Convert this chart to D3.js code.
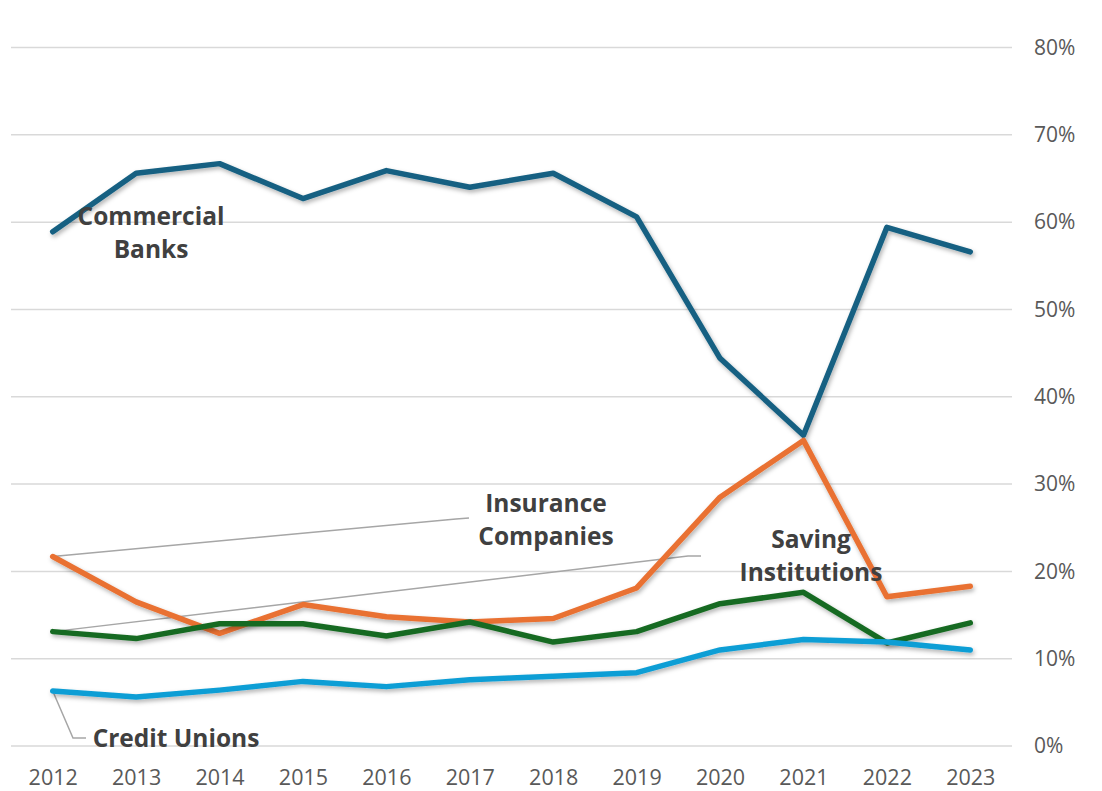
<!DOCTYPE html>
<html>
<head>
<meta charset="utf-8">
<script src="https://cdn.jsdelivr.net/npm/d3@7"></script>
<style>
  body { margin: 0; background: #fff; }
  text { font-family: "Open Sans", sans-serif; }
</style>
</head>
<body>
<script>
 // years on the x axis
 var years = ["2012", "2013", "2014", "2015", "2016", "2017", "2018", "2019", "2020", "2021", "2022", "2023"];

 // share of total, in percent
 var commercialBanks = [58.9, 65.6, 66.7, 62.7, 65.9, 64.0, 65.6, 60.6, 44.4, 35.6, 59.4, 56.6];
 var insuranceCompanies = [21.7, 16.5, 12.9, 16.2, 14.8, 14.2, 14.6, 18.1, 28.5, 35.0, 17.1, 18.3];
 var savingInstitutions = [13.1, 12.3, 14.0, 14.0, 12.6, 14.2, 11.9, 13.1, 16.3, 17.6, 11.8, 14.1];
 var creditUnions = [6.3, 5.6, 6.4, 7.4, 6.8, 7.6, 8.0, 8.4, 11.0, 12.2, 11.9, 11.0];

 var yTicks = [0, 10, 20, 30, 40, 50, 60, 70, 80];

 var series = [
     { name: "Commercial Banks", values: commercialBanks, color: "#156082" },
     { name: "Insurance Companies", values: insuranceCompanies, color: "#E97132" },
     { name: "Saving Institutions", values: savingInstitutions, color: "#196B24" },
     { name: "Credit Unions", values: creditUnions, color: "#0F9ED5" }
 ];

 //Width and height
 var width = 1102,
     height = 791,
     plotLeft = 11,
     plotRight = 1012,
     plotTop = 47.5,
     plotBottom = 746;

 var svg = d3.select("body")
     .append("svg")
     .attr("width", width)
     .attr("height", height);

 // soft drop shadow under the lines
 var filter = svg.append("defs").append("filter")
     .attr("id", "shadow")
     .attr("x", "-10%").attr("y", "-10%")
     .attr("width", "120%").attr("height", "130%");
 filter.append("feDropShadow")
     .attr("dx", 1.5)
     .attr("dy", 2.5)
     .attr("stdDeviation", 2)
     .attr("flood-color", "#000")
     .attr("flood-opacity", 0.3);

 var x = d3.scalePoint()
     .domain(years)
     .range([plotLeft, plotRight])
     .padding(0.5);

 var y = d3.scaleLinear()
     .domain([0, 80])
     .range([plotBottom, plotTop]);

 //gridlines
 svg.append("g")
     .selectAll("line")
     .data(yTicks)
     .enter()
     .append("line")
     .attr("x1", plotLeft)
     .attr("x2", plotRight)
     .attr("y1", function(d) { return y(d); })
     .attr("y2", function(d) { return y(d); })
     .attr("stroke", "#d9d9d9")
     .attr("stroke-width", 1.5);

 //right axis labels
 var yAxis = d3.axisRight(y)
     .tickValues(yTicks)
     .tickSize(0)
     .tickPadding(0)
     .tickFormat(function(d) { return d + "%"; });

 var yg = svg.append("g")
     .attr("transform", "translate(1034,0)")
     .call(yAxis);
 yg.select(".domain").remove();
 yg.selectAll("text")
     .attr("fill", "#595959")
     .style("font-size", "21px");

 //bottom axis labels
 var xAxis = d3.axisBottom(x)
     .tickSize(0)
     .tickPadding(0);

 var xg = svg.append("g")
     .attr("transform", "translate(0,785)")
     .call(xAxis);
 xg.select(".domain").remove();
 xg.selectAll("text")
     .attr("dy", 0)
     .attr("fill", "#595959")
     .style("font-size", "21.5px");

 //leader lines from labels to the first points
 var leader = svg.append("g")
     .attr("fill", "none")
     .attr("stroke", "#a6a6a6")
     .attr("stroke-width", 1.5);

 leader.append("polyline")
     .attr("points", [[x("2012"), y(insuranceCompanies[0])], [456, 519], [469, 518]].join(" "));
 leader.append("polyline")
     .attr("points", [[x("2012"), y(savingInstitutions[0])], [688, 556], [701, 556]].join(" "));
 leader.append("polyline")
     .attr("points", [[x("2012"), y(creditUnions[0])], [73, 738], [86, 738]].join(" "));

 //lines
 var line = d3.line()
     .x(function(d, i) { return x(years[i]); })
     .y(function(d) { return y(d); });

 svg.append("g")
     .selectAll("path")
     .data(series)
     .enter()
     .append("path")
     .attr("d", function(d) { return line(d.values); })
     .attr("fill", "none")
     .attr("stroke", function(d) { return d.color; })
     .attr("stroke-width", 5.5)
     .attr("stroke-linecap", "round")
     .attr("stroke-linejoin", "round")
     .attr("filter", "url(#shadow)");

 //series labels
 var labels = [
     { lines: ["Commercial", "Banks"], x: 151, y: 225 },
     { lines: ["Insurance", "Companies"], x: 546, y: 512 },
     { lines: ["Saving", "Institutions"], x: 811, y: 548 },
     { lines: ["Credit Unions"], x: 176, y: 747 }
 ];

 var lab = svg.append("g")
     .selectAll("text")
     .data(labels)
     .enter()
     .append("text")
     .attr("text-anchor", "middle")
     .attr("fill", "#404040")
     .style("font-size", "24.5px")
     .style("font-weight", "bold");

 lab.selectAll("tspan")
     .data(function(d) {
         return d.lines.map(function(t, i) { return { t: t, x: d.x, y: d.y + i * 32.5 }; });
     })
     .enter()
     .append("tspan")
     .attr("x", function(d) { return d.x; })
     .attr("y", function(d) { return d.y; })
     .text(function(d) { return d.t; });
</script>
</body>
</html>
